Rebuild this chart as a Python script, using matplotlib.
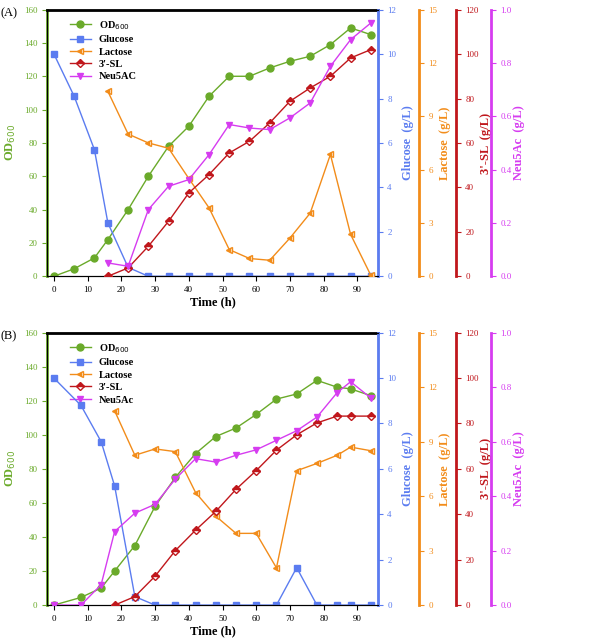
import matplotlib
matplotlib.use("Agg")
import matplotlib.pyplot as plt
import numpy as np

plt.rcParams['font.family'] = ['Liberation Serif', 'DejaVu Serif']

# Panel A
tA = [0,6,12,16,22,28,34,40,46,52,58,64,70,76,82,88,94]
odA = [0,4.5,11,22,40,60,78,90,108,120,120,125,129,132,139,149,145]
gluA = [10.0,8.1,5.7,2.4,0.4,0,0,0,0,0,0,0,0,0,0,0,0]
tA2 = [16,22,28,34,40,46,52,58,64,70,76,82,88,94]
lacA = [10.4,8.0,7.5,7.2,5.5,3.85,1.5,1.0,0.9,2.15,3.55,6.85,2.35,0.05]
slA = [0,3.75,13.5,24.75,37.5,45.75,55.5,60.75,69,78.75,84.75,90,98.25,102]
neuA = [0.05,0.0375,0.25,0.3375,0.3625,0.456,0.569,0.556,0.55,0.594,0.65,0.7875,0.8875,0.95]

# Panel B
tB = [0,8,14,18,24,30,36,42,48,54,60,66,72,78,84,88,94]
odB = [0,4.5,10,20,35,58,75,89,99,104,112,121,124,132,128,127,123]
gluB = [10,8.8,7.2,5.25,0.375,0,0,0,0,0,0,0,1.65,0,0,0,0]
tB2 = [18,24,30,36,42,48,54,60,66,72,78,84,88,94]
lacB = [10.7,8.25,8.6,8.45,6.2,4.9,3.95,3.95,2.05,7.4,7.8,8.25,8.7,8.5]
slB = [0,3.75,12.75,24,33,41.25,51,59.25,68.25,75,80.25,83.25,83.25,83.25]
neuB = [0,0,0.075,0.27,0.3375,0.37,0.4625,0.5375,0.525,0.55,0.57,0.605,0.64,0.69,0.78,0.82,0.76]

cOD, cG, cL, cS, cN = '#6aaa2a', '#5b7cf0', '#f28c1a', '#c0171c', '#d63cf0'

fig = plt.figure(figsize=(5.9, 6.41), dpi=100)

def panel(rect, label, t, od, glu, t2, lac, sl, tn, neu, neuname):
    ax = fig.add_axes(rect)
    ax.plot(t, od, '-o', color=cOD, ms=5, lw=1, label='OD$_{600}$', zorder=5)
    ax.set_ylim(0, 160); ax.set_xlim(-2, 96)
    ax.set_xticks(range(0, 91, 10))
    ax.set_yticks(range(0, 161, 20))
    ax.set_ylabel('OD$_{600}$', color=cOD, fontweight='bold', fontsize=9)
    ax.set_xlabel('Time (h)', fontweight='bold', fontsize=9, labelpad=2)
    ax.tick_params(axis='y', colors=cOD, labelsize=6.5)
    ax.tick_params(axis='x', labelsize=6.5)
    ax.spines['left'].set_color(cOD); ax.spines['left'].set_linewidth(2)
    ax.spines['top'].set_linewidth(2)
    ax.text(-0.14, 0.985, label, transform=ax.transAxes, fontsize=9, va='center')

    a2 = ax.twinx()
    a2.plot(t, glu, '-s', color=cG, ms=4.5, lw=1, label='Glucose')
    a2.set_ylim(0, 12); a2.set_yticks(range(0, 13, 2))
    a2.set_ylabel('Glucose  (g/L)', color=cG, fontweight='bold', fontsize=9)
    a2.tick_params(axis='y', colors=cG, labelsize=6.5)
    a2.spines['right'].set_color(cG); a2.spines['right'].set_linewidth(2)

    handles = [ax.lines[0], a2.lines[0]]
    specs = [(t2, lac, cL, '<', 'Lactose', 'Lactose  (g/L)', 15, 3, 1.124, '%g'),
             (t2, sl, cS, 'D', "3'-SL", "3'-SL  (g/L)", 120, 20, 1.236, '%g'),
             (tn, neu, cN, 'v', neuname, 'Neu5Ac  (g/L)', 1.0, 0.2, 1.342, '%.1f')]
    for tt, yy, c, m, lab, ylab, top, step, pos, fmt in specs:
        a = ax.twinx()
        fs = 'full' if m == 'v' else ('top' if m == 'D' else 'left')
        ln, = a.plot(tt, yy, '-', marker=m, color=c, ms=4.5, lw=1, label=lab,
                     fillstyle=fs, markerfacecoloralt='white')
        handles.append(ln)
        a.set_ylim(0, top); a.set_yticks(np.arange(0, top + 1e-9, step))
        a.yaxis.set_major_formatter(matplotlib.ticker.FormatStrFormatter(fmt))
        a.spines['right'].set_position(('axes', pos))
        a.spines['right'].set_color(c); a.spines['right'].set_linewidth(2)
        for s in ['top', 'left', 'bottom']:
            a.spines[s].set_visible(False)
        a.tick_params(axis='y', colors=c, labelsize=6.5)
        a.set_ylabel(ylab, color=c, fontweight='bold', fontsize=9, labelpad=1)
    ax.legend(handles=handles, loc='upper left', bbox_to_anchor=(0.04, 1.0),
              frameon=False, prop={'weight': 'bold', 'size': 7.5},
              handlelength=2, labelspacing=0.3)

panel([0.08, 0.569, 0.56, 0.416], '(A)', tA, odA, gluA, tA2, lacA, slA, tA2, neuA, 'Neu5AC')
panel([0.08, 0.056, 0.56, 0.425], '(B)', tB, odB, gluB, tB2, lacB, slB, tB, neuB, 'Neu5Ac')

fig.savefig('out.png', dpi=100)
